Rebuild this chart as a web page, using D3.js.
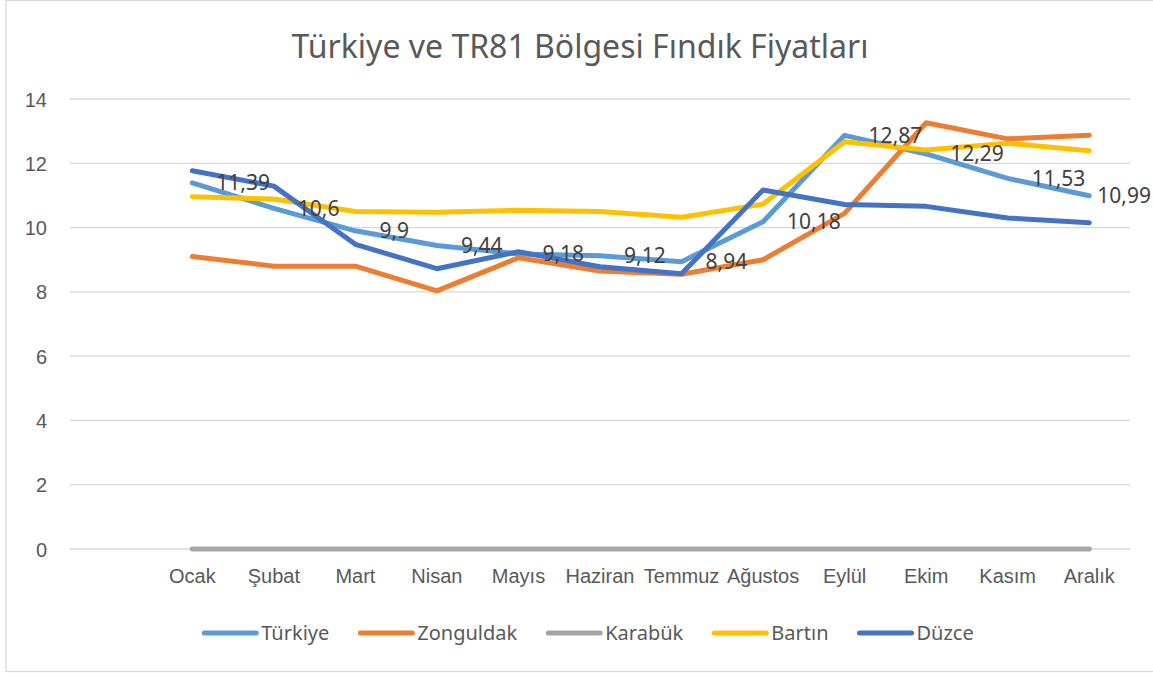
<!DOCTYPE html>
<html>
<head>
  <meta charset="utf-8">
  <title>Türkiye ve TR81 Bölgesi Fındık Fiyatları</title>
  <script src="https://d3js.org/d3.v7.min.js"></script>
  <style>
    body { margin: 0; background: #ffffff; }
    svg { display: block; font-family: "Noto Sans", sans-serif; }
    .grid line { stroke: #d9d9d9; stroke-width: 1.3; }
    .tick text { fill: #595959; }
    .series { fill: none; stroke-width: 5; stroke-linecap: round; stroke-linejoin: round; }
    .dlabel { fill: #404040; font-size: 21px; }
  </style>
</head>
<body>
<script>
var width = 1153, height = 677;

var months = ["Ocak", "Şubat", "Mart", "Nisan", "Mayıs", "Haziran", "Temmuz", "Ağustos", "Eylül", "Ekim", "Kasım", "Aralık"];
var yTicks = [0, 2, 4, 6, 8, 10, 12, 14];

var turkiye   = [11.39, 10.6, 9.9, 9.44, 9.18, 9.12, 8.94, 10.18, 12.87, 12.29, 11.53, 10.99];
var zonguldak = [9.1, 8.8, 8.8, 8.03, 9.06, 8.65, 8.55, 9.0, 10.44, 13.26, 12.76, 12.87];
var karabuk   = [0, 0, 0, 0, 0, 0, 0, 0, 0, 0, 0, 0];
var bartin    = [10.96, 10.89, 10.5, 10.48, 10.54, 10.5, 10.32, 10.73, 12.67, 12.41, 12.62, 12.39];
var duzce     = [11.77, 11.29, 9.48, 8.72, 9.25, 8.78, 8.56, 11.17, 10.72, 10.66, 10.3, 10.15];

var seriesNames  = ["Türkiye", "Zonguldak", "Karabük", "Bartın", "Düzce"];
var seriesColors = ["#5b9bd5", "#ed7d31", "#a5a5a5", "#ffc000", "#4472c4"];
var seriesValues = [turkiye, zonguldak, karabuk, bartin, duzce];

var svg = d3.select("body").append("svg")
  .attr("width", width).attr("height", height);

// chart border (right side runs past the picture, as in the reference)
svg.append("rect")
  .attr("x", 6).attr("y", 0.5)
  .attr("width", width + 20).attr("height", 671)
  .attr("fill", "white")
  .attr("stroke", "#d9d9d9").attr("stroke-width", 1.3);

svg.append("text")
  .attr("x", 580).attr("y", 58)
  .attr("text-anchor", "middle")
  .attr("fill", "#595959")
  .style("font-size", "32px")
  .text("Türkiye ve TR81 Bölgesi Fındık Fiyatları");

// Excel left an empty first category, so the months start in the second slot
var x = d3.scaleBand().domain([""].concat(months)).range([70, 1130]);
var y = d3.scaleLinear().domain([0, 14]).range([549, 99]);
var cx = function(m) { return x(m) + x.bandwidth() / 2; };

svg.append("g").attr("class", "grid")
  .selectAll("line").data(yTicks).enter().append("line")
  .attr("x1", 70).attr("x2", 1130)
  .attr("y1", function(d) { return y(d); })
  .attr("y2", function(d) { return y(d); });

var yAxis = svg.append("g")
  .attr("transform", "translate(47,0)")
  .call(d3.axisLeft(y).tickValues(yTicks).tickSize(0).tickPadding(0));
yAxis.select(".domain").remove();
yAxis.selectAll("text").style("font-size", "20px").attr("dy", "0.35em");

var xAxis = svg.append("g")
  .attr("transform", "translate(0,568)")
  .call(d3.axisBottom(x).tickValues(months).tickSize(0).tickPadding(0));
xAxis.select(".domain").remove();
xAxis.selectAll("text").style("font-size", "20px").attr("dy", "0.75em");

var line = d3.line()
  .x(function(d, i) { return cx(months[i]); })
  .y(function(d) { return y(d); });

// draw order as in Excel: Türkiye first, Düzce on top
seriesValues.forEach(function(vals, k) {
  svg.append("path")
    .attr("class", "series")
    .attr("stroke", seriesColors[k])
    .attr("d", line(vals));
});

// data labels for Türkiye, placed right of each point, kept inside the picture
svg.append("g").selectAll("text")
  .data(turkiye).enter().append("text")
  .attr("class", "dlabel")
  .attr("y", function(d) { return y(d); })
  .attr("dy", "0.35em")
  .text(function(d) { return String(d).replace(".", ","); })
  .attr("x", function(d, i) {
    var w = this.getComputedTextLength();
    return Math.min(cx(months[i]) + 24, width - 2 - w);
  });

// legend
var legend = svg.append("g");
var lx = 0;
seriesNames.forEach(function(name, k) {
  var g = legend.append("g").attr("transform", "translate(" + lx + ",0)");
  g.append("line")
    .attr("x1", 2).attr("x2", 54)
    .attr("stroke", seriesColors[k]).attr("stroke-width", 5)
    .attr("stroke-linecap", "round");
  var t = g.append("text")
    .attr("x", 59).attr("dy", "0.35em")
    .attr("fill", "#595959")
    .style("font-size", "20px")
    .text(name);
  lx += 59 + t.node().getComputedTextLength() + 29;
});
legend.attr("transform", "translate(" + (588 - (lx - 29) / 2) + ",633)");
</script>
</body>
</html>
